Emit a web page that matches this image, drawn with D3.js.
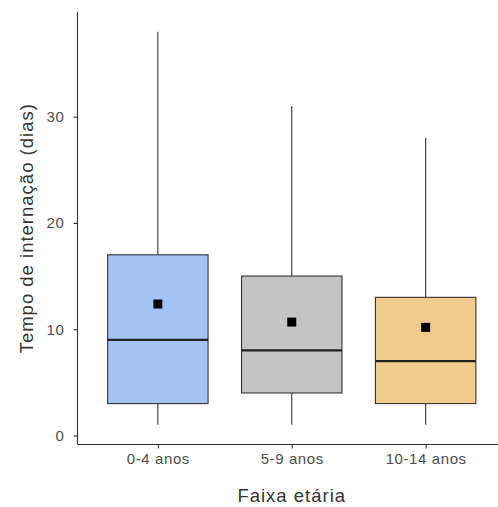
<!DOCTYPE html>
<html>
<head>
<meta charset="utf-8">
<script src="https://cdn.jsdelivr.net/npm/d3@7"></script>
<style>
	body { margin: 0; background: #fff; }
	text { font-family: "Liberation Sans", Arial, sans-serif; }
</style>
</head>
<body>
<svg id="chart" width="498" height="507"></svg>
<script>
'use strict';

// faixas etárias
var categories = ['0-4 anos', '5-9 anos', '10-14 anos'];
var whiskerLow = [1, 1, 1];
var q1 = [3, 4, 3];
var medians = [9, 8, 7];
var q3 = [17, 15, 13];
var whiskerHigh = [38, 31, 28];
var means = [12.37, 10.67, 10.17];
var fills = ['#a4c2f4', '#c4c4c4', '#f0cc8c'];
var yTicks = [0, 10, 20, 30];

var svg = d3.select('#chart');

var panel = { left: 77.5, right: 506, top: 12, bottom: 444.5 };

var x = d3.scalePoint()
	.domain(categories)
	.range([panel.left, panel.right])
	.padding(0.6);

var y = d3.scaleLinear()
	.domain([-0.85, 39.85])
	.range([panel.bottom, panel.top]);

var boxW = x.step() * 0.75;

var rows = categories.map(function(c, i) {
	return {
		cat: c, lo: whiskerLow[i], q1: q1[i], med: medians[i],
		q3: q3[i], hi: whiskerHigh[i], mean: means[i], fill: fills[i]
	};
});

var g = svg.append('g');

var box = g.selectAll('g.box')
	.data(rows)
	.enter()
	.append('g')
	.attr('class', 'box');

// whiskers
box.append('line')
	.attr('x1', function(d) { return x(d.cat); })
	.attr('x2', function(d) { return x(d.cat); })
	.attr('y1', function(d) { return y(d.q3); })
	.attr('y2', function(d) { return y(d.hi); })
	.attr('stroke', '#333').attr('stroke-width', 1.1);
box.append('line')
	.attr('x1', function(d) { return x(d.cat); })
	.attr('x2', function(d) { return x(d.cat); })
	.attr('y1', function(d) { return y(d.q1); })
	.attr('y2', function(d) { return y(d.lo); })
	.attr('stroke', '#333').attr('stroke-width', 1.1);

box.append('rect')
	.attr('x', function(d) { return x(d.cat) - boxW / 2; })
	.attr('width', boxW)
	.attr('y', function(d) { return y(d.q3); })
	.attr('height', function(d) { return y(d.q1) - y(d.q3); })
	.attr('fill', function(d) { return d.fill; })
	.attr('stroke', '#333').attr('stroke-width', 1.1);

box.append('line')
	.attr('x1', function(d) { return x(d.cat) - boxW / 2; })
	.attr('x2', function(d) { return x(d.cat) + boxW / 2; })
	.attr('y1', function(d) { return y(d.med); })
	.attr('y2', function(d) { return y(d.med); })
	.attr('stroke', '#222').attr('stroke-width', 2.2);

box.append('rect')
	.attr('x', function(d) { return x(d.cat) - 4.5; })
	.attr('y', function(d) { return y(d.mean) - 4.5; })
	.attr('width', 9).attr('height', 9)
	.attr('fill', '#000');

// axes
var yAxis = svg.append('g')
	.attr('transform', 'translate(' + panel.left + ',0)')
	.call(d3.axisLeft(y).tickValues(yTicks).tickSize(4).tickPadding(9));
var xAxis = svg.append('g')
	.attr('transform', 'translate(0,' + panel.bottom + ')')
	.call(d3.axisBottom(x).tickSize(4).tickPadding(5));

[yAxis, xAxis].forEach(function(a) {
	a.attr('font-size', null).attr('font-family', null);
	a.select('.domain').attr('stroke', '#333').attr('stroke-width', 1.1);
	a.selectAll('.tick line').attr('stroke', '#333').attr('stroke-width', 1.1);
	a.selectAll('.tick text')
		.attr('fill', '#4d4d4d')
		.style('font-size', '15px')
		.style('letter-spacing', '0.6px');
});
yAxis.select('.domain').attr('d', 'M0,' + panel.bottom + 'V' + panel.top);
xAxis.select('.domain').attr('d', 'M' + panel.left + ',0H' + panel.right);

svg.append('text')
	.attr('x', x('5-9 anos'))
	.attr('y', 502)
	.attr('text-anchor', 'middle')
	.attr('fill', '#333')
	.style('font-size', '18.5px')
	.style('letter-spacing', '1px')
	.text('Faixa etária');

svg.append('text')
	.attr('transform', 'translate(33,' + ((panel.top + panel.bottom) / 2) + ') rotate(-90)')
	.attr('text-anchor', 'middle')
	.attr('fill', '#333')
	.style('font-size', '18.5px')
	.style('letter-spacing', '1px')
	.text('Tempo de internação (dias)');
</script>
</body>
</html>
